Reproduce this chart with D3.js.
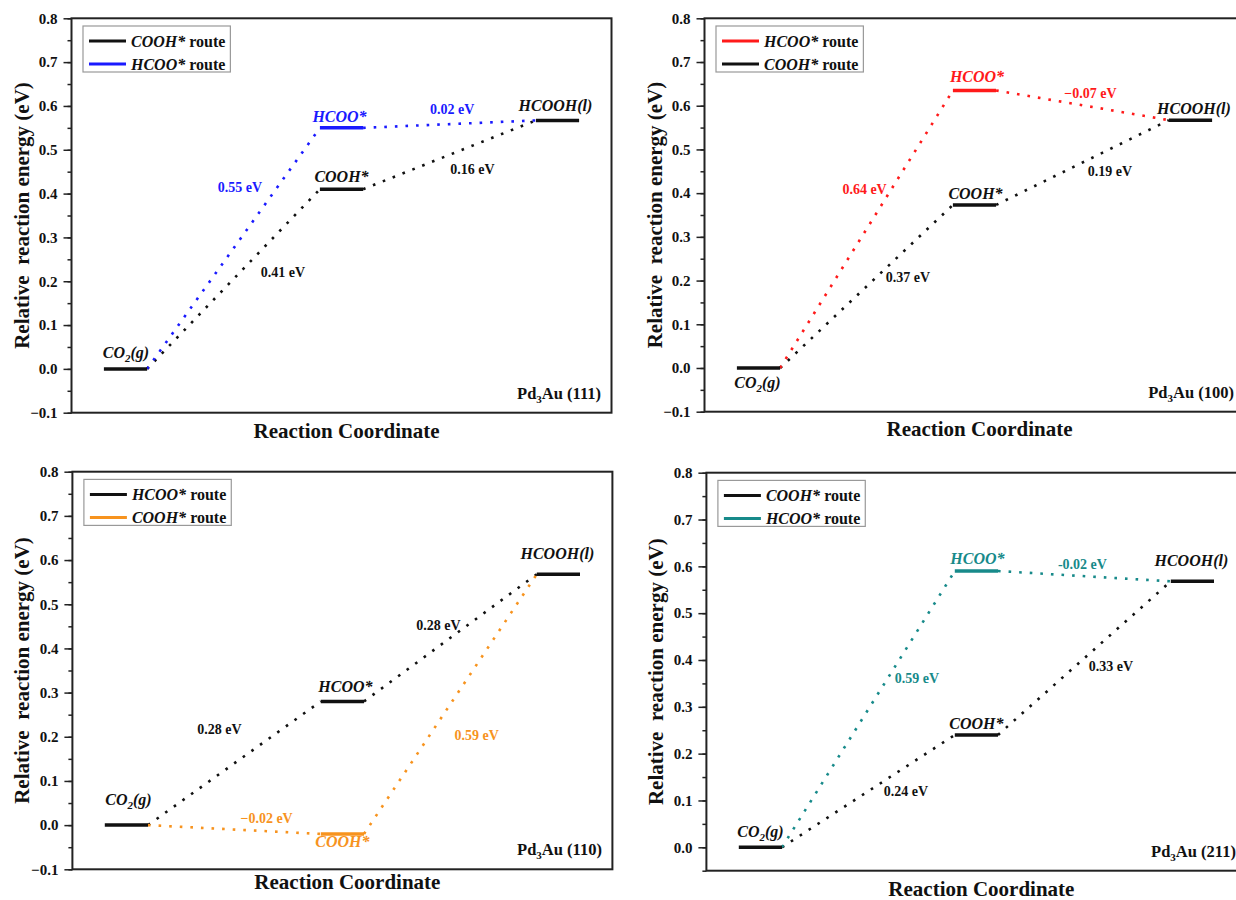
<!DOCTYPE html>
<html><head><meta charset="utf-8">
<script src="https://cdn.jsdelivr.net/npm/d3@7"></script>
<style>
body{margin:0;background:#fff}
text{font-family:"Liberation Serif","Times New Roman",Times,"DejaVu Serif",serif;font-weight:bold}
</style>
</head><body>
<svg id="c" width="1236" height="900"></svg>
<script>
// ---------------- data ----------------
const steps = [1, 2, 3];
const speciesStart = "CO2(g)";
const speciesEnd = "HCOOH(l)";
const yTicksFull = [-0.1, 0.0, 0.1, 0.2, 0.3, 0.4, 0.5, 0.6, 0.7, 0.8];
const yTicksShort = [0.0, 0.1, 0.2, 0.3, 0.4, 0.5, 0.6, 0.7, 0.8];
const facetLabels = ["(111)", "(100)", "(110)", "(211)"];

// Pd3Au (111)
const e111_COOH = [0, 0.41, 0.567];
const e111_HCOO = [0, 0.55, 0.567];
const d111_COOH = ["0.41 eV", "0.16 eV"];
const d111_HCOO = ["0.55 eV", "0.02 eV"];
// Pd3Au (100)
const e100_HCOO = [0, 0.635, 0.567];
const e100_COOH = [0, 0.373, 0.567];
const d100_HCOO = ["0.64 eV", "\u22120.07 eV"];
const d100_COOH = ["0.37 eV", "0.19 eV"];
// Pd3Au (110)
const e110_HCOO = [0, 0.28, 0.568];
const e110_COOH = [0, -0.02, 0.568];
const d110_HCOO = ["0.28 eV", "0.28 eV"];
const d110_COOH = ["\u22120.02 eV", "0.59 eV"];
// Pd3Au (211)
const e211_COOH = [0, 0.24, 0.568];
const e211_HCOO = [0, 0.59, 0.568];
const d211_COOH = ["0.24 eV", "0.33 eV"];
const d211_HCOO = ["0.59 eV", "-0.02 eV"];

// ---------------- layout / style ----------------
const BLACK = "#111", BLUE = "#1a1aff", RED = "#ff1a1a", ORANGE = "#f7931e", TEAL = "#178a8a";
const FONT = '"Liberation Serif","Times New Roman",Times,"DejaVu Serif",serif';

const panels = [
  {facet: facetLabels[0], left: 71.5, top: 18.3, bottom: 412.7, right: 611.5, ymin: -0.1, ticks: yTicksFull, titleDy: 18,
   routes: [
     {name: "COOH*", color: BLACK, e: e111_COOH, d: d111_COOH, lp: [[1.729, 0.222], [2.606, 0.455]], mid: {dx: 0, dy: -12.7}},
     {name: "HCOO*", color: BLUE, e: e111_HCOO, d: d111_HCOO, lp: [[1.530, 0.414], [2.512, 0.594]], mid: {dx: -2, dy: -11.7}}
   ], legendOrder: [0, 1], start: {dx: 0.5, dy: -16.6}, end: {dx: -2, dy: -15}},
  {facet: facetLabels[1], left: 704.5, top: 18.3, bottom: 411.7, right: 1244.5, ymin: -0.1, ticks: yTicksFull, titleDy: 17.3,
   routes: [
     {name: "COOH*", color: BLACK, e: e100_COOH, d: d100_COOH, lp: [[1.692, 0.209], [2.627, 0.451]], mid: {dx: 1, dy: -11}},
     {name: "HCOO*", color: RED, e: e100_HCOO, d: d100_HCOO, lp: [[1.491, 0.410], [2.537, 0.630]], mid: {dx: 2.5, dy: -13.8}}
   ], legendOrder: [1, 0], start: {dx: -1, dy: 15}, end: {dx: 3.5, dy: -11.7}},
  {facet: facetLabels[2], left: 72.4, top: 471.7, bottom: 869.3, right: 612.4, ymin: -0.1, ticks: yTicksFull, titleDy: 12.7,
   routes: [
     {name: "HCOO*", color: BLACK, e: e110_HCOO, d: d110_HCOO, lp: [[1.431, 0.218], [2.445, 0.454]], mid: {dx: 3, dy: -15}},
     {name: "COOH*", color: ORANGE, e: e110_COOH, d: d110_COOH, lp: [[1.649, 0.017], [2.622, 0.205]], mid: {dx: 0, dy: 8}}
   ], legendOrder: [0, 1], start: {dx: 2, dy: -26}, end: {dx: -1, dy: -21}},
  {facet: facetLabels[3], left: 706.4, top: 472.7, bottom: 870.7, right: 1246.4, ymin: -0.05, ticks: yTicksShort, titleDy: 18.5,
   routes: [
     {name: "COOH*", color: BLACK, e: e211_COOH, d: d211_COOH, lp: [[1.674, 0.120], [2.623, 0.387]], mid: {dx: 0, dy: -11.5}},
     {name: "HCOO*", color: TEAL, e: e211_HCOO, d: d211_HCOO, lp: [[1.725, 0.362], [2.491, 0.605]], mid: {dx: 1, dy: -12.7}}
   ], legendOrder: [0, 1], start: {dx: 0, dy: -16}, end: {dx: -1, dy: -21}}
];

const svg = d3.select("#c");
const HALF = 0.1; // half width of a level in x units

function addSpecies(sel, name) {
  if (name === "CO2(g)") {
    sel.append("tspan").text("CO");
    sel.append("tspan").text("2").attr("font-size", 11).attr("dy", 4);
    sel.append("tspan").text("(g)").attr("dy", -4);
  } else {
    sel.text(name);
  }
}

panels.forEach(p => {
  const x = d3.scaleLinear().domain([0.75, 3.25]).range([p.left, p.right]);
  const y = d3.scaleLinear().domain([p.ymin, 0.8]).range([p.bottom, p.top]);
  const g = svg.append("g");

  // minor ticks
  const minor = d3.range(Math.round(p.ymin * 20), 17).map(k => k / 20);
  g.append("g").attr("transform", `translate(${p.left},0)`)
    .call(d3.axisLeft(y).tickValues(minor).tickSize(4).tickFormat(""))
    .call(s => s.select(".domain").remove())
    .call(s => s.selectAll("line").attr("stroke", "#222").attr("stroke-width", 1.5));
  // major ticks
  g.append("g").attr("transform", `translate(${p.left},0)`)
    .call(d3.axisLeft(y).tickValues(p.ticks).tickSize(8).tickPadding(6).tickFormat(d3.format(".1f")))
    .call(s => s.select(".domain").remove())
    .call(s => s.selectAll("line").attr("stroke", "#222").attr("stroke-width", 1.5))
    .call(s => s.selectAll("text").attr("font-size", 15).attr("fill", "#111")
      .attr("font-family", FONT).attr("font-weight", "bold"));

  // frame
  g.append("rect").attr("x", p.left).attr("y", p.top)
    .attr("width", p.right - p.left).attr("height", p.bottom - p.top)
    .attr("fill", "none").attr("stroke", "#222").attr("stroke-width", 2);

  // connectors (black route first, colored on top)
  const order = p.routes.map((r, i) => i).sort((a, b) => (p.routes[a].color === BLACK ? -1 : 1) - (p.routes[b].color === BLACK ? -1 : 1));
  order.forEach(ri => {
    const r = p.routes[ri];
    const segs = d3.range(steps.length - 1).map(i => ({
      x1: x(steps[i] + HALF), y1: y(r.e[i]), x2: x(steps[i + 1] - HALF), y2: y(r.e[i + 1])
    }));
    g.selectAll(null).data(segs).enter().append("line")
      .attr("x1", d => d.x1).attr("y1", d => d.y1).attr("x2", d => d.x2).attr("y2", d => d.y2)
      .attr("stroke", r.color).attr("stroke-width", 2.6).attr("stroke-dasharray", "2.6,8");
  });

  // levels
  const levels = [];
  levels.push({s: steps[0], e: p.routes[0].e[0], c: BLACK});
  p.routes.forEach(r => levels.push({s: steps[1], e: r.e[1], c: r.color}));
  levels.push({s: steps[2], e: p.routes[0].e[2], c: BLACK});
  g.selectAll(null).data(levels).enter().append("line")
    .attr("x1", d => x(d.s - HALF)).attr("x2", d => x(d.s + HALF))
    .attr("y1", d => y(d.e)).attr("y2", d => y(d.e))
    .attr("stroke", d => d.c).attr("stroke-width", 3.5);

  // species labels
  const sp = [
    {name: speciesStart, s: steps[0], e: p.routes[0].e[0], c: BLACK, o: p.start},
    {name: speciesEnd, s: steps[2], e: p.routes[0].e[2], c: BLACK, o: p.end}
  ];
  p.routes.forEach(r => sp.push({name: r.name, s: steps[1], e: r.e[1], c: r.color, o: r.mid}));
  sp.forEach(d => {
    const t = g.append("text").attr("x", x(d.s) + d.o.dx).attr("y", y(d.e) + d.o.dy + 5.5)
      .attr("text-anchor", "middle").attr("font-size", 16).attr("font-style", "italic").attr("fill", d.c);
    addSpecies(t, d.name);
  });

  // energy labels
  p.routes.forEach(r => {
    r.d.forEach((lab, i) => {
      g.append("text").attr("x", x(r.lp[i][0])).attr("y", y(r.lp[i][1]) + 5)
        .attr("text-anchor", "middle").attr("font-size", 14).attr("fill", r.color).text(lab);
    });
  });

  // facet label
  const ft = g.append("text").attr("x", p.right - 10.5).attr("y", p.bottom - 20 + 6)
    .attr("text-anchor", "end").attr("font-size", 16.5).attr("fill", "#111");
  ft.append("tspan").text("Pd");
  ft.append("tspan").text("3").attr("font-size", 11).attr("dy", 4);
  ft.append("tspan").text("Au " + p.facet).attr("dy", -4);

  // legend
  const lg = g.append("g");
  const lx = p.left + 11.5, ly = p.top + 7.7;
  const rows = p.legendOrder.map(i => p.routes[i]);
  const box = lg.append("rect").attr("x", lx).attr("y", ly).attr("height", 46)
    .attr("fill", "#fff").attr("stroke", "#999").attr("stroke-width", 1.2);
  let maxW = 0;
  rows.forEach((r, k) => {
    const cy = ly + 15 + k * 23;
    lg.append("line").attr("x1", lx + 6).attr("x2", lx + 43).attr("y1", cy).attr("y2", cy)
      .attr("stroke", r.color).attr("stroke-width", 3);
    const t = lg.append("text").attr("x", lx + 48).attr("y", cy + 5.5).attr("font-size", 16).attr("fill", "#111");
    t.append("tspan").text(r.name).attr("font-style", "italic");
    t.append("tspan").text(" route");
    maxW = Math.max(maxW, t.node().getComputedTextLength());
  });
  box.attr("width", 48 + maxW + 5);

  // axis titles
  g.append("text").attr("x", (p.left + p.right) / 2 + 5).attr("y", p.bottom + p.titleDy + 7)
    .attr("text-anchor", "middle").attr("font-size", 21).attr("fill", "#111").text("Reaction Coordinate");
  g.append("text").attr("transform", `translate(${p.left - 50},${(p.top + p.bottom) / 2}) rotate(-90)`)
    .attr("y", 7).attr("text-anchor", "middle").attr("font-size", 21).attr("fill", "#111")
    .style("white-space", "pre").text("Relative  reaction energy (eV)");
});
</script>
</body></html>
